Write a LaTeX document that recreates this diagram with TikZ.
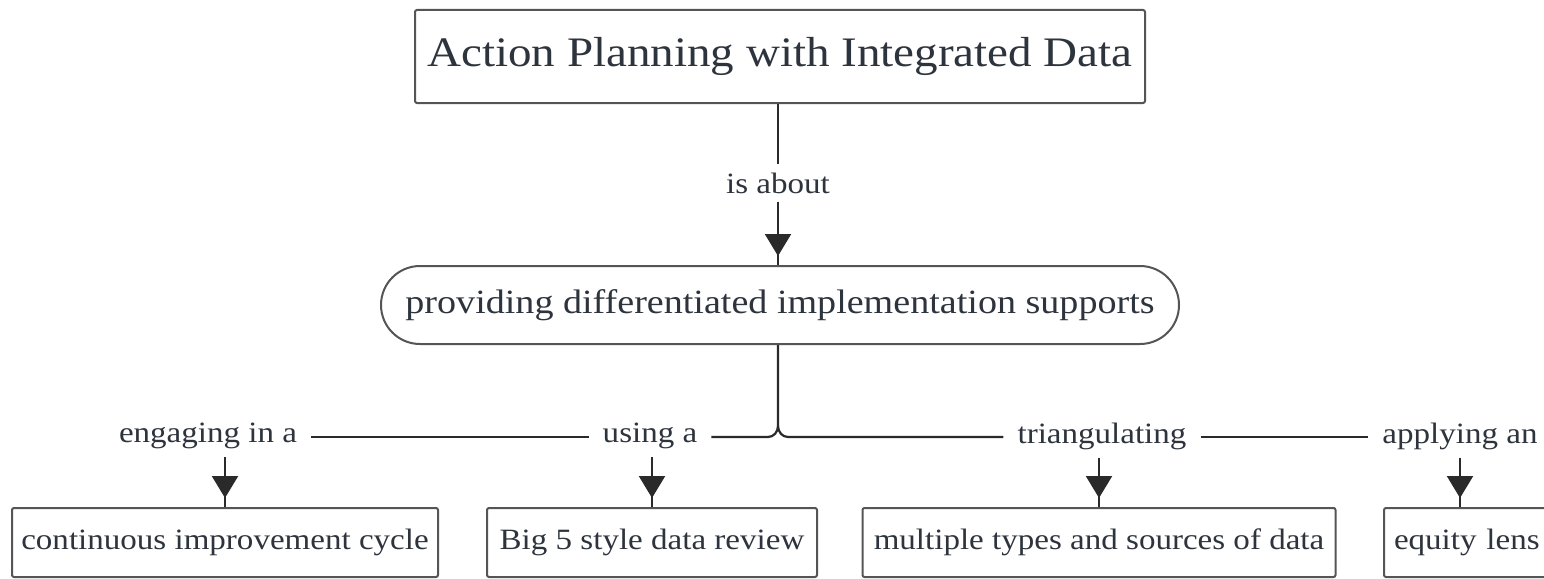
\documentclass[tikz,border=0pt]{standalone}
\usepackage{fontspec}
\setmainfont{Liberation Serif}[FakeStretch=1.12]
\usetikzlibrary{arrows.meta}
\definecolor{txt}{HTML}{2E343D}
\definecolor{ln}{HTML}{2A2A2A}
\begin{document}
\begin{tikzpicture}[x=1pt,y=-1pt,
  boxstyle/.style={draw=ln!80, line width=2pt, rounded corners=2pt, text=txt, inner sep=0pt},
  lab/.style={text=txt, font=\fontsize{29.5}{32}\selectfont, inner xsep=14pt, inner ysep=8pt},
  conn/.style={draw=ln, line width=2.2pt},
  arr/.style={conn, -{Triangle[width=26pt,length=22pt]}, shorten >=9pt}
]
\useasboundingbox (0,0) rectangle (1544,578);
\clip (0,0) rectangle (1544,578);
\fill[white] (0,0) rectangle (1544,578);

\node[boxstyle, minimum width=730pt, minimum height=93pt, font=\fontsize{42}{46}\selectfont] (title) at (780,56.5) {Action Planning with Integrated Data};
\node[lab] (isabout) at (778,183) {is about};
\node[boxstyle, rounded corners=39pt, minimum width=798pt, minimum height=78pt, font=\fontsize{34}{38}\selectfont] (mid) at (780,305) {providing differentiated implementation supports};

\node[lab] (engaging) at (208,436) {engaging in a};
\node[lab] (using) at (650,436) {using a};
\node[lab] (tri) at (1102,436) {triangulating};
\node[lab] (apply) at (1460,436) {applying an};

\node[boxstyle, minimum width=426pt, minimum height=69pt, font=\fontsize{29.5}{32}\selectfont] (cic) at (225,542.5) {continuous improvement cycle};
\node[boxstyle, minimum width=330pt, minimum height=69pt, font=\fontsize{29.5}{32}\selectfont] (big) at (652,542.5) {Big 5 style data review};
\node[boxstyle, minimum width=473pt, minimum height=69pt, font=\fontsize{29.5}{32}\selectfont] (multi) at (1099,542.5) {multiple types and sources of data};
\node[boxstyle, anchor=west, minimum height=69pt, text width=160pt, align=left, inner xsep=10pt, font=\fontsize{29.5}{32}\selectfont] (equity) at (1383,542.5) {equity lens};

\coordinate (jn) at (778,426);
\draw[conn] (title.south -| isabout) -- (isabout.north);
\draw[conn] (isabout.south) -- (isabout.south |- mid.north);
\draw[arr] (isabout.south) -- (isabout.south |- mid.north);
\draw[conn] (mid.south -| jn) -- (jn) to[out=-90,in=0] (768,437) -- (using.east |- 0,437);
\draw[conn] (jn) to[out=-90,in=180] (788,437) -- (tri.west |- 0,437);
\draw[conn] (using.west |- 0,437) -- (engaging.east |- 0,437);
\draw[conn] (tri.east |- 0,437) -- (apply.west |- 0,437);

\draw[conn] (cic.north |- engaging.south) -- (cic.north);
\draw[arr] (cic.north |- engaging.south) -- (cic.north);
\draw[conn] (big.north |- using.south) -- (big.north);
\draw[arr] (big.north |- using.south) -- (big.north);
\draw[conn] (multi.north |- tri.south) -- (multi.north);
\draw[arr] (multi.north |- tri.south) -- (multi.north);
\draw[conn] (apply.south) -- (apply.south |- equity.north);
\draw[arr] (apply.south) -- (apply.south |- equity.north);
\end{tikzpicture}
\end{document}
